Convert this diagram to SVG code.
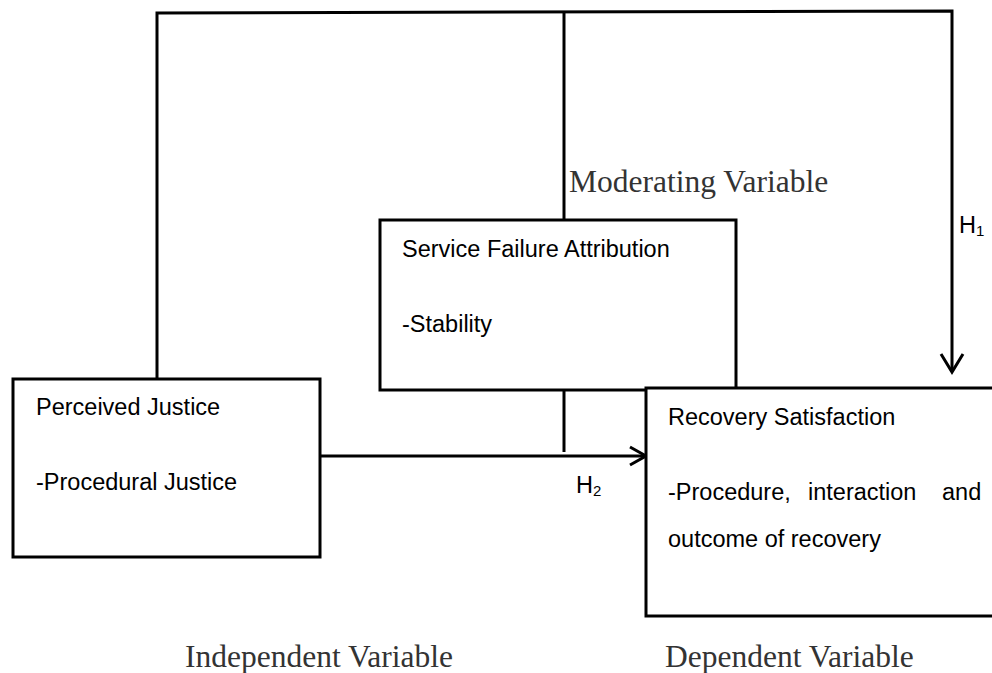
<svg xmlns="http://www.w3.org/2000/svg" width="992" height="673" viewBox="0 0 992 673">
<style>
.box{fill:#fff;stroke:#000;stroke-width:3}
.ln{fill:none;stroke:#000;stroke-width:3}
.sans{font-family:"Liberation Sans",Arial,sans-serif;font-size:23.5px;fill:#000}
.serif{font-family:"Liberation Serif","Times New Roman",serif;font-size:31.5px;fill:#333}
.sub{font-size:15px}
</style>
<rect width="992" height="673" fill="#fff"/>
<g id="connectors">
<polyline class="ln" points="157,379 157,13 952,11 952,372"/>
<line class="ln" x1="564" y1="12" x2="564" y2="220"/>
<line class="ln" x1="564" y1="390" x2="564" y2="452"/>
<line class="ln" x1="320" y1="456" x2="645" y2="456"/>
<polyline class="ln" points="630,447 646,456 630,465"/>
<polyline class="ln" points="941,354 952,372 963,354"/>
</g>
<g id="service-failure-attribution">
<rect class="box" x="380" y="220" width="356" height="170"/>
<text class="sans" x="402" y="257">Service Failure Attribution</text>
<text class="sans" x="402" y="332">-Stability</text>
</g>
<g id="perceived-justice">
<rect class="box" x="13" y="379" width="307" height="178"/>
<text class="sans" x="36" y="415">Perceived Justice</text>
<text class="sans" x="36" y="490">-Procedural Justice</text>
</g>
<g id="recovery-satisfaction">
<rect class="box" x="646" y="388" width="360" height="228"/>
<text class="sans" x="668" y="425">Recovery Satisfaction</text>
<text class="sans" y="500"><tspan x="668">-Procedure,</tspan><tspan x="808">interaction</tspan><tspan x="942">and</tspan></text>
<text class="sans" x="668" y="547">outcome of recovery</text>
</g>
<g id="labels">
<text class="serif" x="569" y="192">Moderating Variable</text>
<text class="sans" x="959" y="233">H<tspan class="sub" dy="3">1</tspan></text>
<text class="sans" x="576" y="493">H<tspan class="sub" dy="3">2</tspan></text>
<text class="serif" x="185" y="667">Independent Variable</text>
<text class="serif" x="665" y="667">Dependent Variable</text>
</g>
</svg>
